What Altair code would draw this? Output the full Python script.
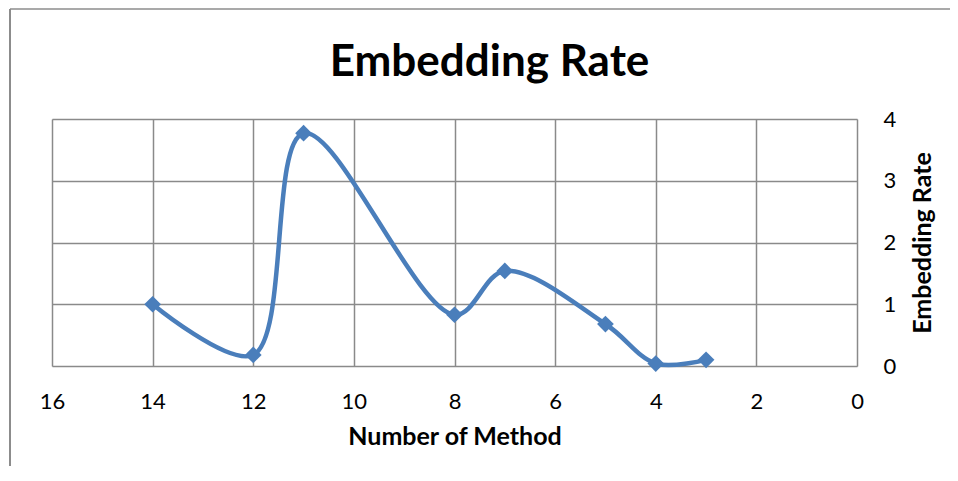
import altair as alt
import pandas as pd

methods = [14, 12, 11, 8, 7, 5, 4, 3]
rates = [1.0, 0.18, 3.77, 0.83, 1.54, 0.68, 0.04, 0.1]
x_ticks = [0, 2, 4, 6, 8, 10, 12, 14, 16]
y_ticks = [0, 1, 2, 3, 4]

df = pd.DataFrame({"method": methods, "rate": rates})

FONT = "Lato"
BLUE = "#4A7EBB"
GRID = "#8a8a8a"

x_enc = alt.X(
    "method:Q",
    scale=alt.Scale(domain=[0, 16], reverse=True, nice=False, zero=False),
    axis=alt.Axis(
        values=x_ticks, title="Number of Method", orient="bottom", format="d",
        domain=False, ticks=False, grid=True, gridColor=GRID, gridWidth=1.5,
        gridOpacity=1, labelFont=FONT, labelFontSize=22, labelColor="#000",
        labelPadding=25, labelFlush=False,
        titleFont=FONT, titleFontSize=25, titleFontWeight="bold",
        titleColor="#000", titlePadding=12,
    ),
)
y_enc = alt.Y(
    "rate:Q",
    scale=alt.Scale(domain=[0, 4], nice=False),
    axis=alt.Axis(
        values=y_ticks, title="Embedding Rate", orient="right", format="d",
        domain=False, ticks=False, grid=True, gridColor=GRID, gridWidth=1.5,
        gridOpacity=1, labelFont=FONT, labelFontSize=22, labelColor="#000",
        labelPadding=26, labelAlign="left", labelBaseline="middle",
        titleFont=FONT, titleFontSize=25, titleFontWeight="bold",
        titleColor="#000", titleAngle=270, titleBaseline="top",
        titlePadding=15,
    ),
)

base = alt.Chart(df)
line = base.mark_line(
    interpolate="catmull-rom", color=BLUE, strokeWidth=4.5
).encode(x=x_enc, y=y_enc)
pts = base.mark_point(
    shape="diamond", filled=True, color=BLUE, size=280, opacity=1
).encode(x="method:Q", y="rate:Q")

# decorative frame of the embedded chart area
frame_v = alt.Chart(pd.DataFrame({"a": [0]})).mark_rule(
    color="#8c8c8c", strokeWidth=2
).encode(x=alt.value(-42), y=alt.value(-110), y2=alt.value(370))
frame_h = alt.Chart(pd.DataFrame({"a": [0]})).mark_rule(
    color="#8c8c8c", strokeWidth=1.5
).encode(x=alt.value(-42), x2=alt.value(920), y=alt.value(-110))

chart = alt.layer(line, pts, frame_v, frame_h).properties(
    width=805,
    height=247,
    title=alt.TitleParams(
        "Embedding Rate", font=FONT, fontSize=44, fontWeight="bold",
        color="#000", anchor="middle", dx=35, offset=-77,
    ),
    autosize=alt.AutoSizeParams(type="none"),
    padding={"left": 44, "top": 111, "right": 93, "bottom": 100},
).configure_view(stroke=GRID, strokeWidth=1.5).configure(background="white")

chart.save("out.html", embed_options={"renderer": "svg", "actions": False})
